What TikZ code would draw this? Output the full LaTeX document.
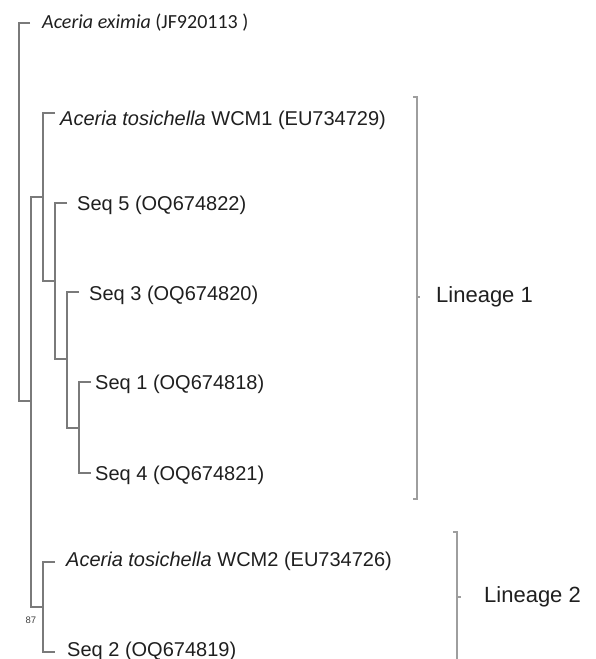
\documentclass[tikz,border=0pt]{standalone}
\usepackage{fontspec}
\setmainfont{Liberation Sans}
\newfontfamily\calib{Carlito}
\begin{document}
\begin{tikzpicture}[x=1pt,y=-1pt,
  branch/.style={draw=black!52,line width=1.3pt},
  brk/.style={draw=black!38,line width=1.2pt},
  leaf/.style={anchor=west,inner sep=0pt,text=black!88,font=\fontsize{20}{24}\selectfont},
  lin/.style={anchor=west,inner sep=0pt,text=black!88,font=\fontsize{22}{26}\selectfont},
  boot/.style={inner sep=0pt,text=black!75,font=\fontsize{9.5}{11}\selectfont}]
\useasboundingbox (0,0) rectangle (595,659);
% internal nodes
\coordinate (root) at (19,401);
\coordinate (B) at (31,401);
\coordinate (L1) at (43,197);
\coordinate (C) at (55,281);
\coordinate (D) at (67,359);
\coordinate (E) at (79,428);
\coordinate (L2) at (43,607);
% tips
\coordinate (t0) at (30,23);
\coordinate (t1) at (55,113);
\coordinate (t5) at (67,203);
\coordinate (t3) at (79,292);
\coordinate (ts1) at (91,382);
\coordinate (ts4) at (91,473);
\coordinate (tw2) at (55,562);
\coordinate (ts2) at (55,652);
% labels
\node[leaf,font=\calib\fontsize{20}{24}\selectfont] (n0) at (42,23) {\textit{Aceria eximia} (JF920113 )};
\node[leaf] (n1) at (60,120) {\textit{Aceria tosichella} WCM1 (EU734729)};
\node[leaf] (n5) at (77,205) {Seq 5 (OQ674822)};
\node[leaf] (n3) at (89,295) {Seq 3 (OQ674820)};
\node[leaf] (ns1) at (95,384) {Seq 1 (OQ674818)};
\node[leaf] (ns4) at (95,475) {Seq 4 (OQ674821)};
\node[leaf] (nw2) at (66,561) {\textit{Aceria tosichella} WCM2 (EU734726)};
\node[leaf] (ns2) at (67,651) {Seq 2 (OQ674819)};
\node[boot] (b87) at (31,620) {87};
% tree
\draw[branch] (t0) -| (root) |- (B);
\draw[branch] (L1) -| (B) |- (L2);
\draw[branch] (t1) -| (L1) |- (C);
\draw[branch] (t5) -| (C) |- (D);
\draw[branch] (t3) -| (D) |- (E);
\draw[branch] (ts1) -| (E) |- (ts4);
\draw[branch] (tw2) -| (L2) |- (ts2);
% brackets
\coordinate (a1) at (417,97);
\coordinate (a2) at (417,499);
\coordinate (am) at (417,297);
\coordinate (c1) at (457,532);
\coordinate (c2) at (457,670);
\coordinate (cm) at (457,597);
\node[lin] (lab1) at (436,297) {Lineage 1};
\node[lin] (lab2) at (484,597) {Lineage 2};
\draw[brk] ([xshift=-4]a1) -- (a1) -- (a2) -- ([xshift=-4]a2);
\draw[brk] (am) -- ([xshift=3]am);
\draw[brk] ([xshift=-4]c1) -- (c1) -- (c2);
\draw[brk] (cm) -- ([xshift=4]cm);
\end{tikzpicture}
\end{document}
